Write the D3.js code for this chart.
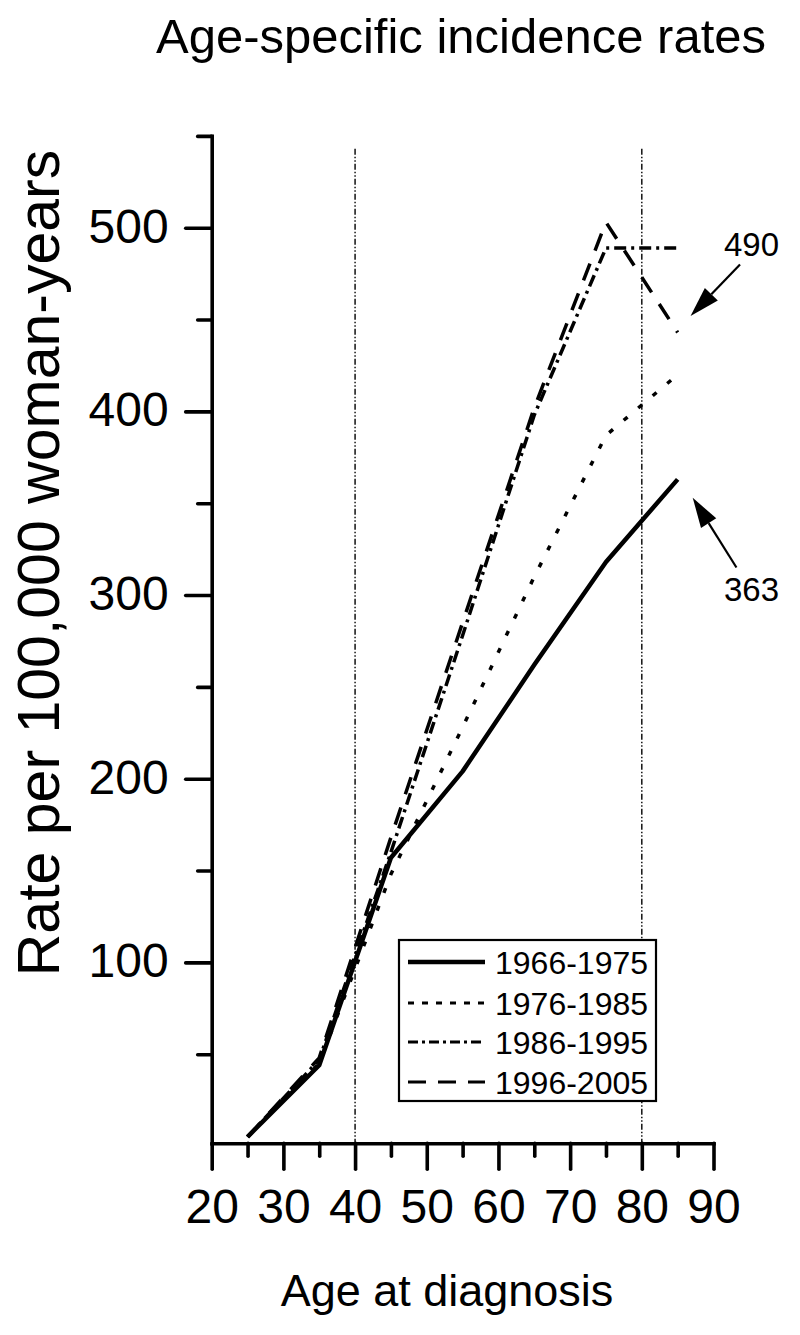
<!DOCTYPE html>
<html><head><meta charset="utf-8">
<script src="https://cdn.jsdelivr.net/npm/d3@7"></script>
<style>
body{margin:0;background:#fff}
text{font-family:"Liberation Sans",Arial,Helvetica,sans-serif;fill:#000}
</style>
</head><body>
<svg id="c" width="800" height="1335"></svg>
<script>
// ---- data ----
const ages = [25, 35, 45, 55, 65, 75, 85];
const rates1966 = [5, 44, 157, 204, 262, 318, 363];
const rates1976 = [5, 45, 148, 228, 310, 387, 420];
const rates1986 = [5, 47, 160, 278, 398, 489, 489];
const rates1996 = [5, 48, 168, 285, 402, 503, 443];
const seriesNames = ["1966-1975", "1976-1985", "1986-1995", "1996-2005"];
const xMajorTicks = [20, 30, 40, 50, 60, 70, 80, 90];
const xMinorTicks = [25, 35, 45, 55, 65, 75, 85];
const yMajorTicks = [100, 200, 300, 400, 500];
const yMinorTicks = [50, 150, 250, 350, 450, 550];
const refAges = [40, 80];
const annotations = [
  {label: "490", tail: [93.7, 480], tip: [86.8, 452], text: [95.3, 491]},
  {label: "363", tail: [93.2, 315], tip: [87.1, 353], text: [95.3, 303]}
];

const series = seriesNames.map((n, i) => ({
  name: n,
  values: [rates1966, rates1976, rates1986, rates1996][i]
}));
const styles = [
  {w: 4.5, dash: null},
  {w: 3.5, dash: "5,14"},
  {w: 3.5, dash: "12,5,3,5"},
  {w: 3.5, dash: "18,14"}
];
const legendStyles = [
  {w: 4.5, dash: null},
  {w: 3, dash: "6,8"},
  {w: 3, dash: "10,4,3,4"},
  {w: 3, dash: "18,12"}
];

const svg = d3.select("#c");
const x = d3.scaleLinear().domain([20, 90]).range([211.7, 713.5]);
const y = d3.scaleLinear().domain([1.5, 550]).range([1143.3, 135.9]);
const x0 = x(20), yBase = y(1.5);

// reference vertical lines
svg.selectAll("line.ref").data(refAges).join("line")
  .attr("class", "ref")
  .attr("x1", d => x(d)).attr("x2", d => x(d))
  .attr("y1", y(543)).attr("y2", yBase)
  .attr("stroke", "#000").attr("stroke-width", 1.4)
  .attr("stroke-dasharray", "6,2,1.5,2,1.5,2");

// axes
const xAxisMajor = d3.axisBottom(x).tickValues(xMajorTicks).tickSize(26).tickSizeOuter(0).tickPadding(20).tickFormat(d3.format("d"));
const gx = svg.append("g").attr("transform", `translate(0,${yBase})`).call(xAxisMajor);
gx.append("g").call(d3.axisBottom(x).tickValues(xMinorTicks).tickSize(13).tickFormat(""))
  .select(".domain").remove();
const yAxisMajor = d3.axisLeft(y).tickValues(yMajorTicks).tickSize(26).tickSizeOuter(0).tickPadding(17).tickFormat(d3.format("d"));
const gy = svg.append("g").attr("transform", `translate(${x0},0)`).call(yAxisMajor);
gy.append("g").call(d3.axisLeft(y).tickValues(yMinorTicks).tickSize(14).tickFormat(""))
  .select(".domain").remove();

[gx, gy].forEach(g => {
  g.selectAll(".domain").style("stroke", "#000").style("stroke-width", "3.6px").style("stroke-linecap", "square");
  g.selectAll(".tick line").style("stroke", "#000").style("stroke-width", "3.6px").style("stroke-linecap", "round");
  g.selectAll(".tick text").attr("font-size", 48).attr("fill", "#000")
    .attr("font-family", '"Liberation Sans",Arial,sans-serif');
});
gx.selectAll(".tick text").attr("dy", "0.71em");
gy.selectAll(".tick text").attr("dy", "0.3em");

// lines
const line = d3.line().x((d, i) => x(ages[i])).y(d => y(d));
svg.selectAll("path.series").data(series).join("path")
  .attr("class", "series")
  .attr("d", d => line(d.values))
  .attr("fill", "none").attr("stroke", "#000")
  .attr("stroke-width", (d, i) => styles[i].w)
  .attr("stroke-dasharray", (d, i) => styles[i].dash)
  .attr("stroke-linejoin", "round");

// annotations with arrows
annotations.forEach(a => {
  const tx = x(a.tail[0]), ty = y(a.tail[1]);
  const px = x(a.tip[0]), py = y(a.tip[1]);
  const ang = Math.atan2(py - ty, px - tx);
  const hl = 30, hw = 9;
  const bx = px - hl * Math.cos(ang), by = py - hl * Math.sin(ang);
  svg.append("line").attr("x1", tx).attr("y1", ty).attr("x2", bx).attr("y2", by)
    .attr("stroke", "#000").attr("stroke-width", 2.2);
  const nx = -Math.sin(ang), ny = Math.cos(ang);
  svg.append("path")
    .attr("d", `M${px},${py}L${bx + nx * hw},${by + ny * hw}L${bx - nx * hw},${by - ny * hw}Z`)
    .attr("fill", "#000");
  svg.append("text").attr("x", x(a.text[0])).attr("y", y(a.text[1]))
    .attr("text-anchor", "middle").attr("dy", "0.36em").attr("font-size", 33).text(a.label);
});

// legend
const lg = svg.append("g").attr("transform", "translate(399,940)");
lg.append("rect").attr("width", 257).attr("height", 161)
  .attr("fill", "#fff").attr("stroke", "#000").attr("stroke-width", 2.2);
const rowsY = [22, 63, 102, 142];
series.forEach((s, i) => {
  lg.append("line").attr("x1", 9).attr("x2", 86).attr("y1", rowsY[i]).attr("y2", rowsY[i])
    .attr("stroke", "#000").attr("stroke-width", legendStyles[i].w)
    .attr("stroke-dasharray", legendStyles[i].dash);
  lg.append("text").attr("x", 96).attr("y", rowsY[i]).attr("dy", "0.36em")
    .attr("font-size", 32).text(s.name);
});

// titles
svg.append("text").attr("x", 461).attr("y", 53).attr("text-anchor", "middle")
  .attr("font-size", 49).text("Age-specific incidence rates");
svg.append("text").attr("x", 447).attr("y", 1306).attr("text-anchor", "middle")
  .attr("font-size", 45).text("Age at diagnosis");
svg.append("text").attr("transform", "translate(59,563) rotate(-90)")
  .attr("text-anchor", "middle").attr("font-size", 59).text("Rate per 100,000 woman-years");
</script>
</body></html>
